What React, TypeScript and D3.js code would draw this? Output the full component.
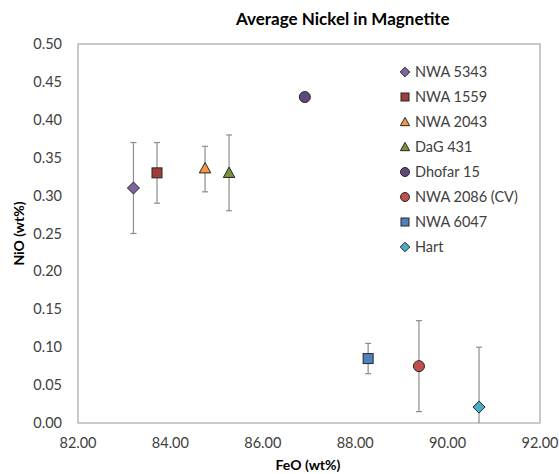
import React from "react";
import * as d3 from "d3";

// samples
const names = ["NWA 5343", "NWA 1559", "NWA 2043", "DaG 431", "Dhofar 15", "NWA 2086 (CV)", "NWA 6047", "Hart"];
const feo = [83.2, 83.71, 84.75, 85.27, 86.91, 89.38, 88.28, 90.68];
const nio = [0.31, 0.33, 0.336, 0.33, 0.43, 0.075, 0.085, 0.021];
const errHi = [0.37, 0.37, 0.365, 0.38, null, 0.135, 0.105, 0.10];
const errLo = [0.25, 0.29, 0.305, 0.28, null, 0.015, 0.065, -0.06];
const shapes = ["diamond", "square", "triangle", "triangle", "circle", "circle", "square", "diamond"];
const colors = ["#8064A2", "#A03C3A", "#F79646", "#77933C", "#604A7B", "#C0504D", "#4F81BD", "#4BACC6"];

const xTicks = [82, 84, 86, 88, 90, 92];
const yTicks = [0, 0.05, 0.1, 0.15, 0.2, 0.25, 0.3, 0.35, 0.4, 0.45, 0.5];

const W = 559, H = 474;
const margin = { left: 78, right: 19, top: 44, bottom: 51 };
const font = "Lato, 'Open Sans', sans-serif";

function Marker({ shape, x, y, size, fill }: { shape: string; x: number; y: number; size: number; fill: string }) {
    const s = size / 2;
    const stroke = "#262626";
    if (shape === "circle") return <circle cx={x} cy={y} r={s} fill={fill} stroke={stroke} strokeWidth={1} />;
    if (shape === "square") return <rect x={x - s} y={y - s} width={size} height={size} fill={fill} stroke={stroke} strokeWidth={1} />;
    if (shape === "diamond") {
        const d = s * 1.2;
        return <path d={`M${x},${y - d}L${x + d},${y}L${x},${y + d}L${x - d},${y}Z`} fill={fill} stroke={stroke} strokeWidth={1} />;
    }
    const t = s * 1.15;
    return <path d={`M${x},${y - t}L${x + t},${y + t * 0.8}L${x - t},${y + t * 0.8}Z`} fill={fill} stroke={stroke} strokeWidth={1} />;
}

export default function App() {
    const x = d3.scaleLinear().domain([82, 92]).range([margin.left, W - margin.right]);
    const y = d3.scaleLinear().domain([0, 0.5]).range([H - margin.bottom, margin.top]);
    const [y0, y1] = y.range();
    const clampY = (v: number) => Math.min(y0, Math.max(y1, y(v)));

    return (
        <svg width={W} height={H} style={{ position: "absolute", left: 0, top: 0, fontFamily: font }}>
            <rect width={W} height={H} fill="#fff" />
            <text x={236} y={25} fontWeight="bold" fontSize={17} fill="#000">
                Average Nickel in Magnetite
            </text>
            <rect x={x(82)} y={y(0.5)} width={x(92) - x(82)} height={y(0) - y(0.5)} fill="none" stroke="#A6A6A6" strokeWidth={1.2} />
            {yTicks.map(t => (
                <text key={t} x={62} y={y(t)} dy="0.35em" textAnchor="end" fontSize={14.5} fill="#404040">
                    {t.toFixed(2)}
                </text>
            ))}
            {xTicks.map(t => (
                <text key={t} x={x(t)} y={y0 + 25} textAnchor="middle" fontSize={14.5} fill="#404040">
                    {t.toFixed(2)}
                </text>
            ))}
            <text x={308} y={470} textAnchor="middle" fontWeight="bold" fontSize={14} fill="#000">
                FeO (wt%)
            </text>
            <text transform={`translate(24,${(y0 + y1) / 2}) rotate(-90)`} textAnchor="middle" fontWeight="bold" fontSize={14} fill="#000">
                NiO (wt%)
            </text>
            {names.map((n, i) => {
                const hi = errHi[i], lo = errLo[i];
                if (hi == null || lo == null) return null;
                const cx = x(feo[i]);
                return (
                    <g key={"e" + n} stroke="#8C8C8C" strokeWidth={1.2}>
                        <line x1={cx} x2={cx} y1={clampY(hi)} y2={clampY(lo)} />
                        <line x1={cx - 3} x2={cx + 3} y1={y(hi)} y2={y(hi)} />
                        {lo >= 0 && <line x1={cx - 3} x2={cx + 3} y1={y(lo)} y2={y(lo)} />}
                    </g>
                );
            })}
            {names.map((n, i) => (
                <Marker key={n} shape={shapes[i]} x={x(feo[i])} y={y(nio[i])} size={shapes[i] === "circle" ? 11 : 10} fill={colors[i]} />
            ))}
            {names.map((n, i) => (
                <g key={"l" + n}>
                    <Marker shape={shapes[i]} x={405} y={72 + i * 25} size={shapes[i] === "circle" ? 9 : 8} fill={colors[i]} />
                    <text x={415} y={72 + i * 25} dy="0.35em" fontSize={14.5} fill="#404040">
                        {n}
                    </text>
                </g>
            ))}
        </svg>
    );
}
